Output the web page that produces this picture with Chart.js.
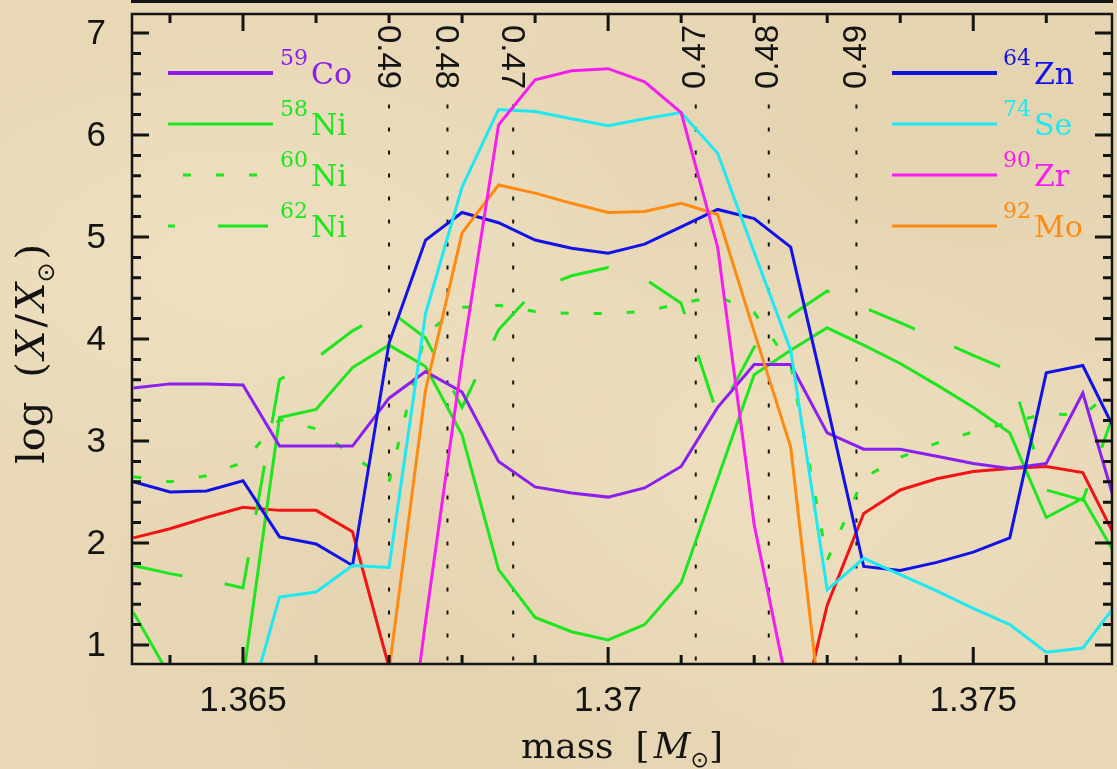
<!DOCTYPE html>
<html>
<head>
<meta charset="utf-8">
<title>Abundances vs mass</title>
<script src="https://cdn.jsdelivr.net/npm/chart.js@4.4.1/dist/chart.umd.min.js"></script>
<style>
  html, body { margin: 0; padding: 0; }
  body {
    width: 1117px; height: 769px; overflow: hidden;
    background-color: #e8d8b6;
    background-image:
      radial-gradient(ellipse at 22% 35%, rgba(250, 240, 215, 0.35), transparent 35%),
      radial-gradient(ellipse at 68% 62%, rgba(250, 238, 210, 0.30), transparent 40%),
      radial-gradient(ellipse at 88% 12%, rgba(215, 190, 145, 0.18), transparent 35%),
      radial-gradient(ellipse at 40% 90%, rgba(215, 190, 145, 0.18), transparent 40%);
  }
  canvas { display: block; }
</style>
</head>
<body>
<canvas id="abundChart" width="1117" height="769"></canvas>
<script>
// zone masses [Msun]
const mass = [1.3635, 1.3640, 1.3645, 1.3650, 1.3655, 1.3660, 1.3665, 1.3670, 1.3675, 1.3680,
              1.3685, 1.3690, 1.3695, 1.3700, 1.3705, 1.3710, 1.3715, 1.3720, 1.3725, 1.3730,
              1.3735, 1.3740, 1.3745, 1.3750, 1.3755, 1.3760, 1.3765, 1.3770];

// log (X / Xsun) per zone
const co59 = [3.52, 3.56, 3.56, 3.55, 2.95, 2.95, 2.95, 3.42, 3.68, 3.48, 2.80, 2.55, 2.49, 2.45,
              2.54, 2.75, 3.33, 3.75, 3.75, 3.08, 2.92, 2.92, 2.85, 2.78, 2.73, 2.78, 3.47, 2.25];
const ni58 = [1.32, 0.69, null, 0.67, 3.23, 3.31, 3.72, 3.94, 3.73, 3.06, 1.74, 1.27, 1.13, 1.05,
              1.20, 1.61, 2.63, 3.65, 3.89, 4.11, 3.94, 3.76, 3.55, 3.33, 3.08, 2.25, 2.44, 1.82];
const ni60 = [2.65, 2.60, 2.66, 2.79, 3.21, 3.12, 2.86, 2.60, 4.06, 4.31, 4.33, 4.27, 4.25, 4.25,
              4.27, 4.35, 4.42, 4.26, 3.75, 1.83, 2.64, 2.84, 2.98, 3.09, 3.18, 3.27, 3.25, 3.55];
const ni62 = [1.78, 1.70, 1.64, 1.56, 3.60, 3.81, 4.08, 4.28, 4.01, 3.33, 4.09, 4.48, 4.62, 4.70,
              4.59, 4.35, 3.25, 3.92, 4.23, 4.47, 4.31, 4.16, 4.00, 3.84, 3.69, 2.52, 2.42, 3.42];
const zn64 = [2.60, 2.50, 2.51, 2.61, 2.06, 1.99, 1.78, 3.96, 4.97, 5.24, 5.14, 4.97, 4.89, 4.84,
              4.93, 5.10, 5.27, 5.18, 4.90, 3.35, 1.77, 1.73, 1.81, 1.91, 2.05, 3.67, 3.74, 3.02];
const se74 = [null, null, null, 0.20, 1.47, 1.52, 1.78, 1.76, 4.25, 5.49, 6.25, 6.23, 6.16, 6.09,
              6.16, 6.22, 5.82, 4.85, 3.89, 1.54, 1.85, 1.69, 1.53, 1.36, 1.20, 0.93, 0.97, 1.44];
const zr90 = [null, null, null, null, null, null, null, -1.5, 1.23, 3.80, 6.10, 6.54, 6.63, 6.65,
              6.52, 6.22, 4.90, 2.18, 0.43, null, null, null, null, null, null, null, null, null];
const mo92 = [null, null, null, null, null, null, null, 0.75, 3.50, 5.04, 5.51, 5.43, 5.33, 5.24,
              5.25, 5.33, 5.22, 4.07, 2.94, -0.20, null, null, null, null, null, null, null, null];
const other = [2.05, 2.14, 2.25, 2.35, 2.32, 2.32, 2.11, 0.78, null, null, null, null, null, null,
               null, null, null, null, -0.10, 1.39, 2.29, 2.52, 2.63, 2.70, 2.73, 2.75, 2.69, 1.98];

// Ye contours
const yeMass = [1.3670, 1.3678, 1.3687, 1.3712, 1.3722, 1.3734];
const yeLabels = ['0.49', '0.48', '0.47', '0.47', '0.48', '0.49'];
const yeTop = 6.3;

// axes
const xMin = 1.36348, xMax = 1.3769;
const yMin = 0.814, yMax = 7.186;
const xTicks = [1.365, 1.37, 1.375];
const xMinor = [1.364, 1.366, 1.367, 1.368, 1.369, 1.371, 1.372, 1.373, 1.374, 1.376];
const yTicks = [1, 2, 3, 4, 5, 6, 7];
const yMinor = [1.2, 1.4, 1.6, 1.8, 2.2, 2.4, 2.6, 2.8, 3.2, 3.4, 3.6, 3.8,
                4.2, 4.4, 4.6, 4.8, 5.2, 5.4, 5.6, 5.8, 6.2, 6.4, 6.6, 6.8];

// legend
const leftIso = ['59', '58', '60', '62'];
const leftEl = ['Co', 'Ni', 'Ni', 'Ni'];
const rightIso = ['64', '74', '90', '92'];
const rightEl = ['Zn', 'Se', 'Zr', 'Mo'];

const C = {
    co: '#8a1ff0', ni: '#1ee61e', zn: '#1212e8', se: '#1ee8f2',
    zr: '#f41ef0', mo: '#ff8a12', red: '#f21414', ink: '#141414'
};
const DOT = [8, 25];
const LDASH = [50, 43];

function series(vals, color, dash, width) {
    return {
        data: mass.map((m, i) => ({ x: m, y: vals[i] })),
        borderColor: color,
        borderWidth: width || 3,
        borderDash: dash || [],
        pointRadius: 0,
        tension: 0,
        fill: false
    };
}

// inward tick marks as short segments; lengths are fractions of the axis span
function tickSet(xs, ys, frac) {
    const dy = (yMax - yMin) * frac.y, dx = (xMax - xMin) * frac.x;
    const pts = [];
    xs.forEach(v => {
        pts.push({ x: v, y: yMin }, { x: v, y: yMin + dy }, { x: v, y: null });
        pts.push({ x: v, y: yMax }, { x: v, y: yMax - dy }, { x: v, y: null });
    });
    ys.forEach(v => {
        pts.push({ x: xMin, y: v }, { x: xMin + dx, y: v }, { x: xMin, y: null });
        pts.push({ x: xMax, y: v }, { x: xMax - dx, y: v }, { x: xMax, y: null });
    });
    return { data: pts, borderColor: C.ink, borderWidth: 3, pointRadius: 0, spanGaps: false };
}

// first dataset is drawn on top
const datasets = [
    tickSet(xTicks, yTicks, { x: 0.0174, y: 0.0262 }),
    tickSet(xMinor, yMinor, { x: 0.0092, y: 0.0138 }),
    series(zr90, C.zr),
    series(mo92, C.mo),
    series(se74, C.se),
    series(zn64, C.zn),
    series(co59, C.co),
    series(ni58, C.ni),
    series(ni62, C.ni, LDASH),
    series(ni60, C.ni, DOT),
    series(other, C.red)
];
yeMass.forEach(m => {
    datasets.push({
        data: [{ x: m, y: yeTop }, { x: m, y: yMin }],
        borderColor: C.ink, borderWidth: 2, borderDash: [4, 19], pointRadius: 0
    });
});

function drawRich(ctx, parts, x, y, align) {
    let w = 0;
    parts.forEach(p => { ctx.font = p.font; p.w = ctx.measureText(p.t).width + (p.gap || 0); w += p.w; });
    let cx = align === 'center' ? x - w / 2 : x;
    parts.forEach(p => {
        ctx.font = p.font;
        ctx.fillText(p.t, cx, y + (p.dy || 0));
        cx += p.w;
    });
}

const framePlugin = {
    id: 'frame',
    afterDraw(chart) {
        const { ctx, chartArea: a, scales } = chart;
        const xs = scales.x, ys = scales.y;
        ctx.save();
        ctx.setLineDash([]);
        ctx.strokeStyle = C.ink;
        ctx.lineWidth = 2.5;
        ctx.strokeRect(a.left, a.top, a.right - a.left, a.bottom - a.top);
        // bottom edge of the panel above
        ctx.lineWidth = 3;
        ctx.beginPath(); ctx.moveTo(a.left - 1, 1.5); ctx.lineTo(a.right + 1, 1.5); ctx.stroke();

        ctx.fillStyle = C.ink;
        // tick labels
        ctx.font = '35px "Liberation Sans", Arial, sans-serif';
        ctx.textAlign = 'center';
        ctx.textBaseline = 'alphabetic';
        xTicks.forEach(v => ctx.fillText(String(v), xs.getPixelForValue(v), 711));
        ctx.textAlign = 'right';
        ctx.textBaseline = 'middle';
        yTicks.forEach(v => ctx.fillText(String(v), 106, ys.getPixelForValue(v) + 1));

        // Ye labels, rotated
        ctx.font = '33px "Liberation Sans", Arial, sans-serif';
        ctx.textAlign = 'center';
        yeMass.forEach((m, i) => {
            ctx.save();
            ctx.translate(xs.getPixelForValue(m) - (i < 3 ? 2 : 0), 57);
            ctx.rotate(i < 3 ? Math.PI / 2 : -Math.PI / 2);
            ctx.fillText(yeLabels[i], 0, 0);
            ctx.restore();
        });

        // axis titles
        const serif = '36px "DejaVu Serif", serif';
        const serifIt = 'italic 36px "DejaVu Serif", serif';
        const sun = '22px "DejaVu Sans", sans-serif';
        ctx.textAlign = 'left';
        ctx.textBaseline = 'alphabetic';
        drawRich(ctx, [
            { t: 'mass', font: serif, gap: 22 },
            { t: '[', font: serif, gap: 4 },
            { t: 'M', font: serifIt },
            { t: '\u2299', font: sun, dy: 9 },
            { t: ']', font: serif }
        ], (a.left + a.right) / 2, 758, 'center');

        const serifL = '40px "DejaVu Serif", serif';
        const serifLIt = 'italic 40px "DejaVu Serif", serif';
        const sunL = '24px "DejaVu Sans", sans-serif';
        ctx.save();
        ctx.translate(44, 354);
        ctx.rotate(-Math.PI / 2);
        drawRich(ctx, [
            { t: 'log', font: serifL, gap: 24 },
            { t: '(', font: serifL, gap: 3 },
            { t: 'X', font: serifLIt, gap: 3 },
            { t: '/', font: serifL, gap: 3 },
            { t: 'X', font: serifLIt },
            { t: '\u2299', font: sunL, dy: 10, gap: 3 },
            { t: ')', font: serifL }
        ], 0, 0, 'center');
        ctx.restore();

        // legends
        const leftStyle = [
            { color: C.co, dash: [], off: 0, w: 4 },
            { color: C.ni, dash: [], off: 0, w: 3 },
            { color: C.ni, dash: DOT, off: 18, w: 3 },
            { color: C.ni, dash: LDASH, off: 43, w: 3 }
        ];
        const rightStyle = [
            { color: C.zn, dash: [], off: 0, w: 4 },
            { color: C.se, dash: [], off: 0, w: 3 },
            { color: C.zr, dash: [], off: 0, w: 3 },
            { color: C.mo, dash: [], off: 0, w: 3 }
        ];
        const drawLegend = (iso, el, styles, x1, x2, tx) => {
            iso.forEach((n, r) => {
                const ly = 73 + 51 * r;
                const s = styles[r];
                ctx.save();
                ctx.strokeStyle = s.color;
                ctx.lineWidth = s.w;
                ctx.setLineDash(s.dash);
                ctx.lineDashOffset = s.off;
                ctx.beginPath(); ctx.moveTo(x1, ly); ctx.lineTo(x2, ly); ctx.stroke();
                ctx.restore();
                ctx.fillStyle = s.color;
                ctx.font = '22px "DejaVu Serif", serif';
                ctx.fillText(n, tx, ly - 8);
                const sw = ctx.measureText(n).width;
                ctx.font = '30px "DejaVu Serif", serif';
                ctx.fillText(el[r], tx + sw + 3, ly + 11);
            });
        };
        drawLegend(leftIso, leftEl, leftStyle, 168, 273, 280);
        drawLegend(rightIso, rightEl, rightStyle, 892, 997, 1003);
        ctx.restore();
    }
};

const ctx = document.getElementById('abundChart').getContext('2d');
new Chart(ctx, {
    type: 'line',
    data: { datasets: datasets },
    options: {
        responsive: false,
        animation: false,
        events: [],
        layout: { padding: { top: 14, right: 5, left: 0, bottom: 0 } },
        plugins: { legend: { display: false }, tooltip: { enabled: false } },
        scales: {
            x: {
                type: 'linear', min: xMin, max: xMax,
                grid: { display: false, drawTicks: false },
                border: { display: false },
                ticks: { display: false },
                afterFit: s => { s.height = 105; }
            },
            y: {
                type: 'linear', min: yMin, max: yMax,
                grid: { display: false, drawTicks: false },
                border: { display: false },
                ticks: { display: false },
                afterFit: s => { s.width = 132; }
            }
        }
    },
    plugins: [framePlugin]
});
</script>
</body>
</html>
